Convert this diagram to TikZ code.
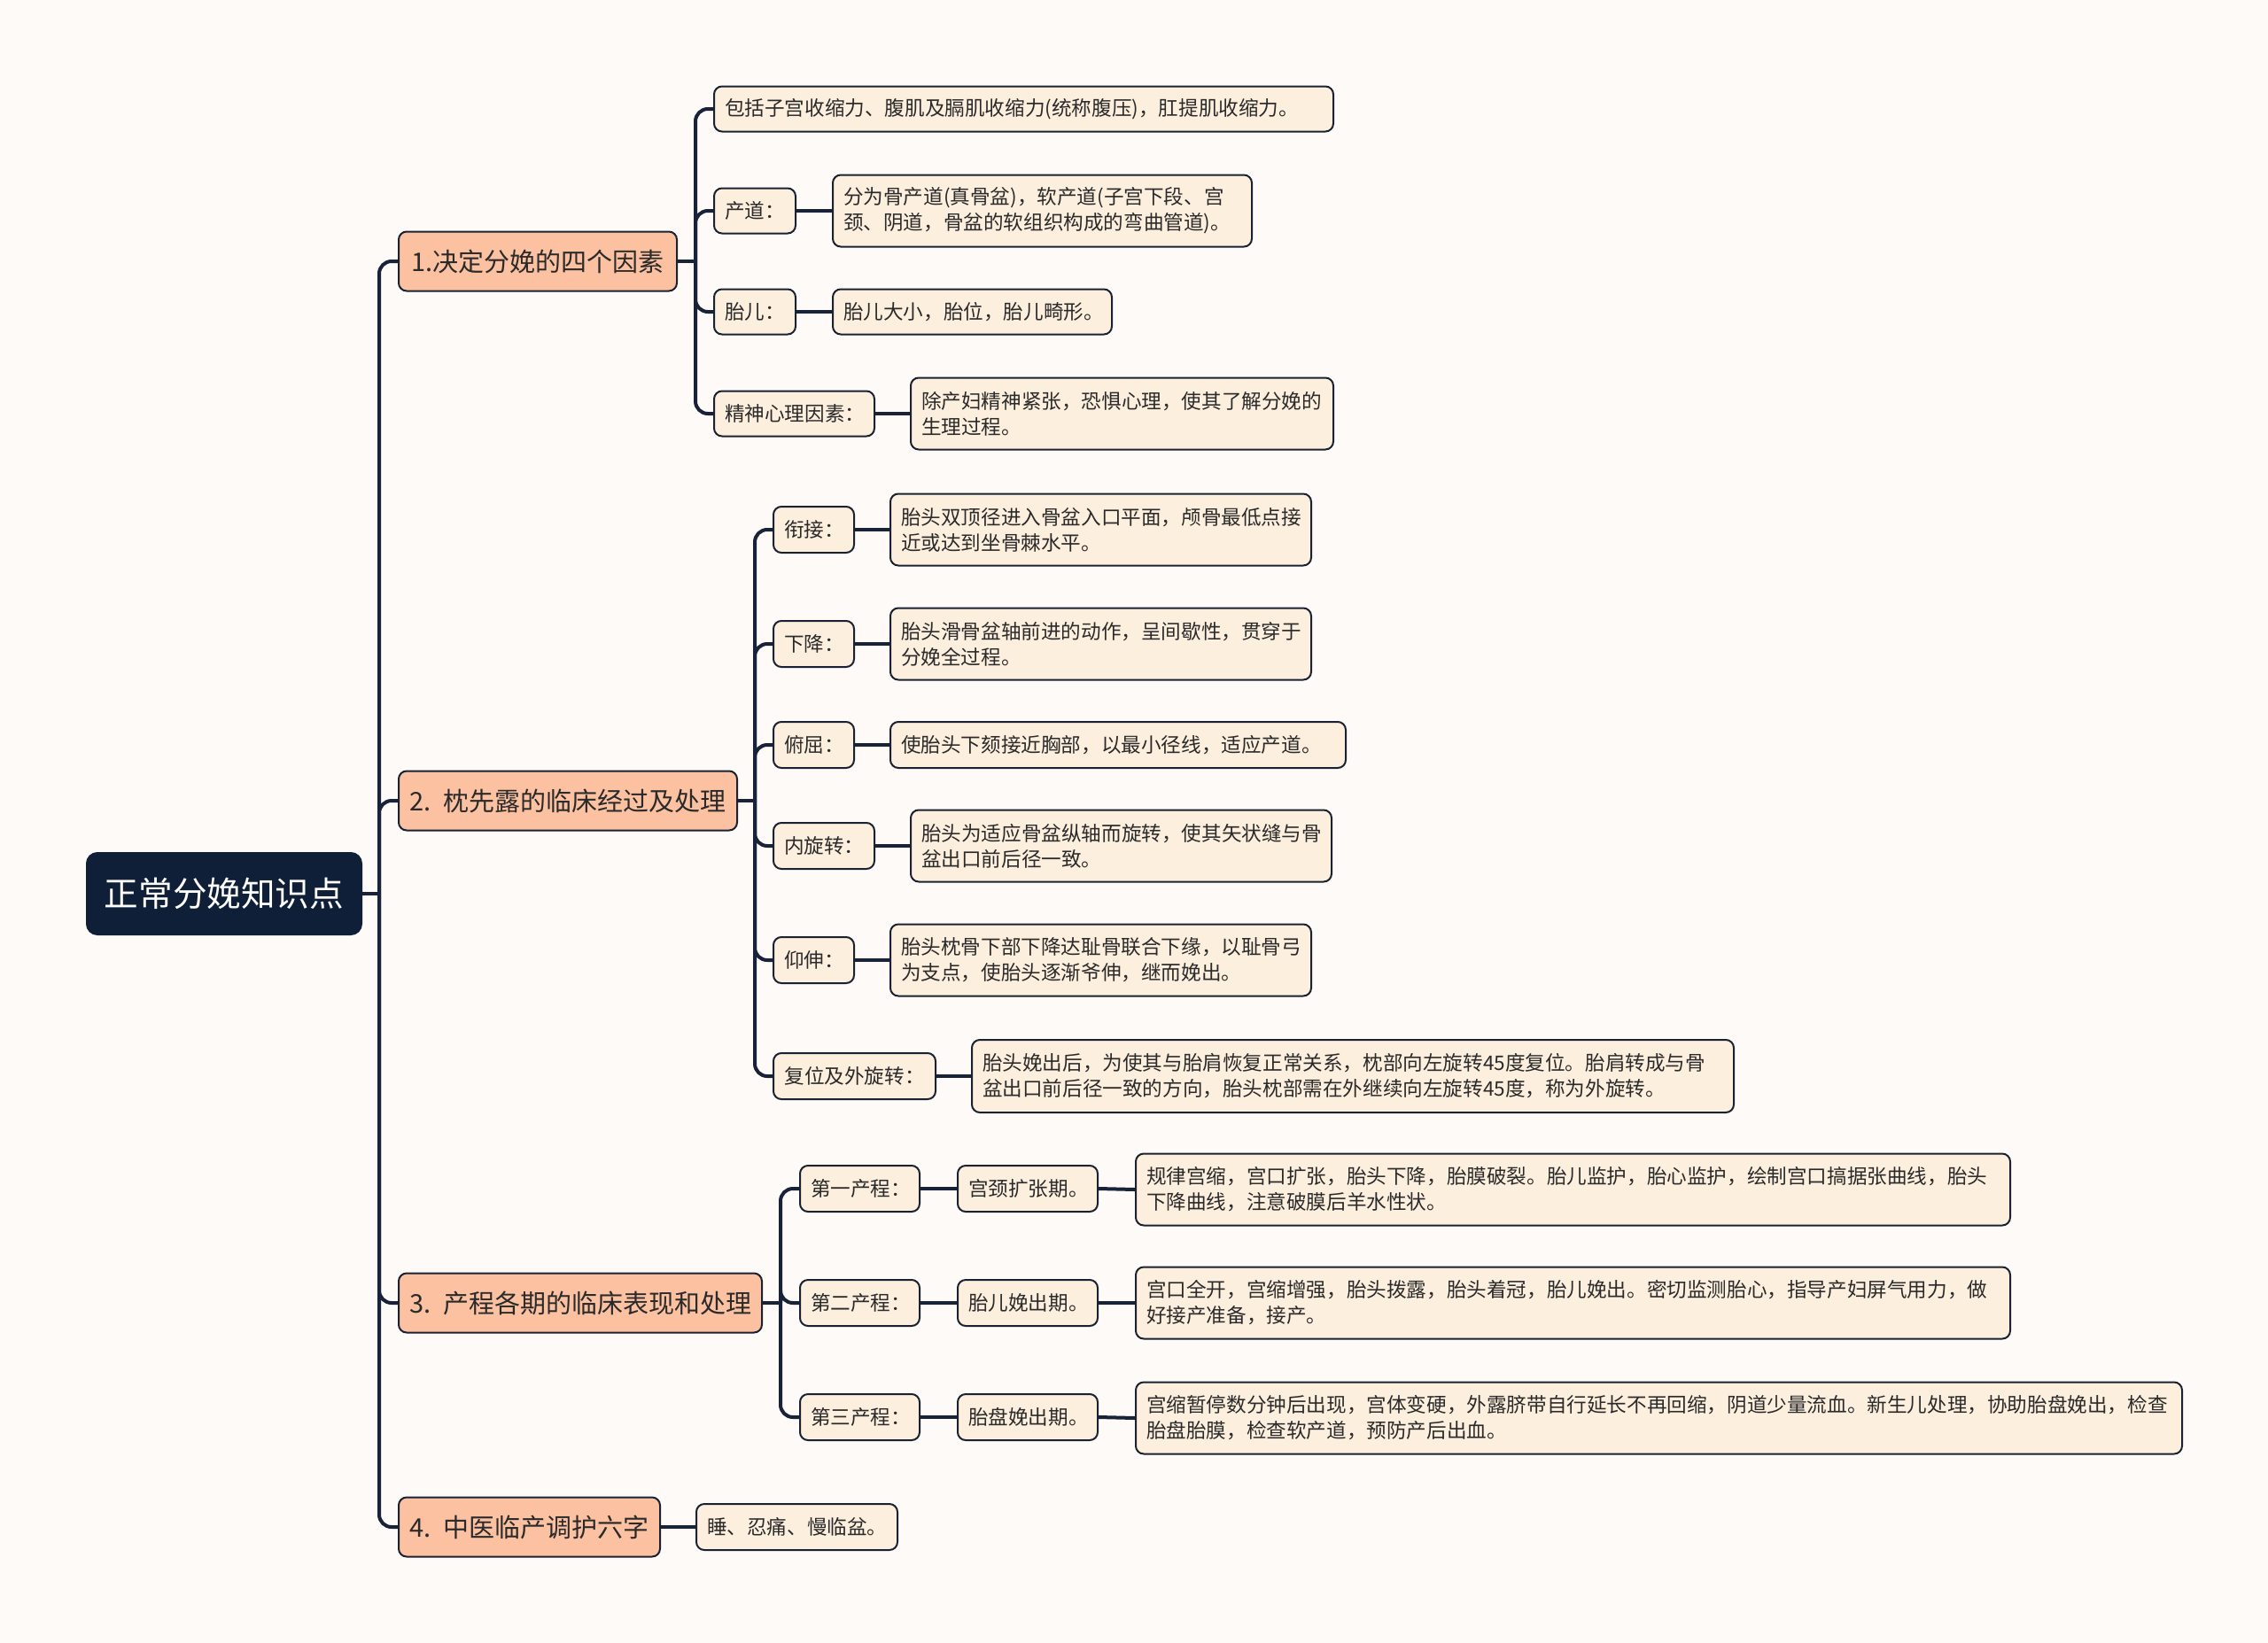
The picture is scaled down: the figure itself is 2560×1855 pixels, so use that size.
\documentclass[tikz,border=0pt]{standalone}
\usepackage{fontspec}
\newfontfamily\cjk{Noto Sans CJK SC}
\definecolor{bgc}{HTML}{FDFAF8}
\definecolor{rootc}{HTML}{0F1F38}
\definecolor{lonec}{HTML}{FBC1A1}
\definecolor{leafc}{HTML}{FDEFDE}
\definecolor{bordc}{HTML}{1A2232}
\definecolor{linec}{HTML}{18233A}
\definecolor{txtc}{HTML}{2A2A2A}
\newcommand\rootfont{\cjk\fontsize{38.6pt}{46pt}\selectfont}
\newcommand\lonefont{\cjk\fontsize{29pt}{36pt}\selectfont}
\newcommand\leaffont{\cjk\fontsize{22.6pt}{29pt}\selectfont}
\tikzset{
  box/.style={draw=bordc, line width=2pt, rounded corners=9pt, inner xsep=12pt, inner ysep=0pt, text=txtc},
  rootbox/.style={fill=rootc, draw=rootc, text=white, font=\rootfont, align=center, rounded corners=12pt},
  lonebox/.style={fill=lonec, font=\lonefont, align=center},
  labbox/.style={fill=leafc, font=\leaffont, align=center},
  leafbox/.style={fill=leafc, font=\leaffont, align=left},
  conn/.style={draw=linec, line width=4pt},
  rc/.style={rounded corners=14pt}
}
% \bx[style]{name}{x1}{x2}{cy}{h}{text}
\newcommand\bx[7][leafbox]{%
  \pgfmathsetmacro\bxw{#4-#3}%
  \pgfmathsetmacro\bxtw{#4-#3-24}%
  \node[box,#1,minimum width=\bxw pt,minimum height=#6pt,text width=\bxtw pt,anchor=west] (#2) at (#3,#5) {#7};%
}
\begin{document}
\begin{tikzpicture}[x=1pt,y=-1pt]
\useasboundingbox (0,0) rectangle (2560,1855);
\fill[bgc] (0,0) rectangle (2560,1855);

% root
\bx[rootbox]{root}{97}{407}{1009}{92}{正常分娩知识点}

% level 1
\bx[lonebox]{b1}{449}{763}{295}{67}{\mbox{1.决定分娩的四个因素}}
\bx[lonebox]{b2}{449}{831}{904}{67}{\mbox{2. 枕先露的临床经过及处理}}
\bx[lonebox]{b3}{449}{859}{1471}{67}{\mbox{3. 产程各期的临床表现和处理}}
\bx[lonebox]{b4}{449}{744}{1724}{67}{\mbox{4. 中医临产调护六字}}

% group 1
\bx{a1}{805}{1504}{123}{51}{包括子宫收缩力、腹肌及膈肌收缩力(统称腹压)，肛提肌收缩力。}
\bx[labbox]{a2}{805}{897}{238}{51}{产道：}
\bx{c2}{939}{1412}{238}{81}{分为骨产道(真骨盆)，软产道(子宫下段、宫\\颈、阴道，骨盆的软组织构成的弯曲管道)。}
\bx[labbox]{a3}{805}{897}{352}{51}{胎儿：}
\bx{c3}{939}{1254}{352}{51}{胎儿大小，胎位，胎儿畸形。}
\bx[labbox]{a4}{805}{986}{467}{51}{精神心理因素：}
\bx{c4}{1027}{1504}{467}{81}{除产妇精神紧张，恐惧心理，使其了解分娩的\\生理过程。}

% group 2
\bx[labbox]{g1}{872}{963}{598}{52}{衔接：}
\bx{h1}{1004}{1479}{598}{81}{胎头双顶径进入骨盆入口平面，颅骨最低点接\\近或达到坐骨棘水平。}
\bx[labbox]{g2}{872}{963}{727}{52}{下降：}
\bx{h2}{1004}{1479}{727}{81}{胎头滑骨盆轴前进的动作，呈间歇性，贯穿于\\分娩全过程。}
\bx[labbox]{g3}{872}{963}{841}{52}{俯屈：}
\bx{h3}{1004}{1518}{841}{52}{使胎头下颏接近胸部，以最小径线，适应产道。}
\bx[labbox]{g4}{872}{986}{955}{52}{内旋转：}
\bx{h4}{1027}{1502}{955}{81}{胎头为适应骨盆纵轴而旋转，使其矢状缝与骨\\盆出口前后径一致。}
\bx[labbox]{g5}{872}{963}{1084}{52}{仰伸：}
\bx{h5}{1004}{1479}{1084}{81}{胎头枕骨下部下降达耻骨联合下缘，以耻骨弓\\为支点，使胎头逐渐爷伸，继而娩出。}
\bx[labbox]{g6}{872}{1055}{1215}{52}{复位及外旋转：}
\bx{h6}{1096}{1956}{1215}{82}{胎头娩出后，为使其与胎肩恢复正常关系，枕部向左旋转45度复位。胎肩转成与骨\\盆出口前后径一致的方向，胎头枕部需在外继续向左旋转45度，称为外旋转。}

% group 3
\bx[labbox]{p1}{902}{1037}{1342}{52}{第一产程：}
\bx[labbox]{m1}{1080}{1238}{1342}{52}{宫颈扩张期。}
\bx{t1}{1281}{2268}{1343}{81}{规律宫缩，宫口扩张，胎头下降，胎膜破裂。胎儿监护，胎心监护，绘制宫口搞据张曲线，胎头\\下降曲线，注意破膜后羊水性状。}
\bx[labbox]{p2}{902}{1037}{1471}{52}{第二产程：}
\bx[labbox]{m2}{1080}{1238}{1471}{52}{胎儿娩出期。}
\bx{t2}{1281}{2268}{1471}{81}{宫口全开，宫缩增强，胎头拨露，胎头着冠，胎儿娩出。密切监测胎心，指导产妇屏气用力，做\\好接产准备，接产。}
\bx[labbox]{p3}{902}{1037}{1600}{52}{第三产程：}
\bx[labbox]{m3}{1080}{1238}{1600}{52}{胎盘娩出期。}
\bx{t3}{1281}{2462}{1601}{81}{宫缩暂停数分钟后出现，宫体变硬，外露脐带自行延长不再回缩，阴道少量流血。新生儿处理，协助胎盘娩出，检查\\胎盘胎膜，检查软产道，预防产后出血。}

% group 4
\bx{d4}{785}{1012}{1724}{52}{睡、忍痛、慢临盆。}

% connectors
\coordinate (T) at (428,1009);
\coordinate (J1) at (785,295);
\coordinate (J2) at (852,904);
\coordinate (J3) at (881,1471);

\draw[conn] (root.east) -- (T);
\foreach \n in {b1,b2,b3,b4} \draw[conn,rc] (T) |- (\n.west);

\draw[conn] (b1.east) -- (J1);
\foreach \n in {a1,a2,a3,a4} \draw[conn,rc] (J1) |- (\n.west);
\draw[conn] (a2.east) -- (c2.west);
\draw[conn] (a3.east) -- (c3.west);
\draw[conn] (a4.east) -- (c4.west);

\draw[conn] (b2.east) -- (J2);
\foreach \n in {g1,g2,g3,g4,g5,g6} \draw[conn,rc] (J2) |- (\n.west);
\draw[conn] (g1.east) -- (h1.west);
\draw[conn] (g2.east) -- (h2.west);
\draw[conn] (g3.east) -- (h3.west);
\draw[conn] (g4.east) -- (h4.west);
\draw[conn] (g5.east) -- (h5.west);
\draw[conn] (g6.east) -- (h6.west);

\draw[conn] (b3.east) -- (J3);
\foreach \n in {p1,p2,p3} \draw[conn,rc] (J3) |- (\n.west);
\draw[conn] (p1.east) -- (m1.west);
\draw[conn] (m1.east) -- (t1.west);
\draw[conn] (p2.east) -- (m2.west);
\draw[conn] (m2.east) -- (t2.west);
\draw[conn] (p3.east) -- (m3.west);
\draw[conn] (m3.east) -- (t3.west);

\draw[conn] (b4.east) -- (d4.west);
\end{tikzpicture}
\end{document}
